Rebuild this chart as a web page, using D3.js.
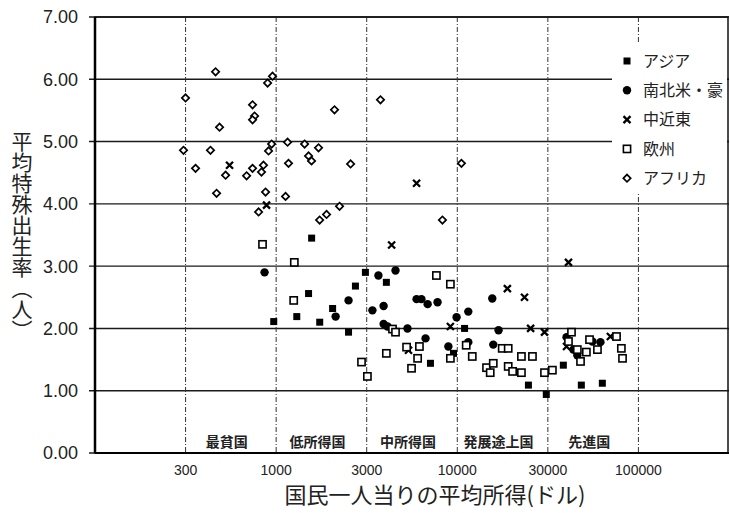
<!DOCTYPE html>
<html><head><meta charset="utf-8">
<script src="https://cdn.jsdelivr.net/npm/d3@7"></script>
<style>body{margin:0;background:#fff} svg{display:block}</style>
</head><body><svg id="c" width="730" height="513"></svg>
<script>
// ---- data ----
const xTickValues = [316.23, 1000, 3162.3, 10000, 31623, 100000];
const xTickLabels = ["300", "1000", "3000", "10000", "30000", "100000"];
const yTickValues = [0, 1, 2, 3, 4, 5, 6, 7];
const incomeGroups = ["最貧国", "低所得国", "中所得国", "発展途上国", "先進国"];
const seriesNames = ["アジア", "南北米・豪", "中近東", "欧州", "アフリカ"];

// [平均所得(ドル), 平均特殊出生率]
const asia = [
  [1570,3.45],[3110,2.90],[2740,2.68],[1510,2.56],[2050,2.32],[1300,2.19],[970,2.11],
  [1740,2.10],[2510,1.94],[4060,2.74],[10970,2.00],[9530,1.60],[7110,1.44],[24700,1.09],
  [31000,0.94],[38500,1.41],[48400,1.09],[63200,1.12]
];
const americas = [
  [863,2.90],[2510,2.45],[2130,2.19],[3670,2.85],[4560,2.93],[3400,2.29],[3920,2.36],
  [3920,2.07],[4120,2.03],[5310,2.00],[5960,2.47],[6340,2.47],[6860,2.39],[7780,2.42],
  [6680,1.84],[8930,1.71],[9910,2.18],[11500,2.27],[11500,1.78],[15600,2.48],[16900,1.97],
  [15800,1.74],[40100,1.86],[46000,1.57],[43700,1.66],[55700,1.79],[61700,1.78]
];
const middleEast = [
  [553,4.62],[885,3.98],[5960,4.33],[4340,3.34],[41100,3.06],[18900,2.64],[23500,2.50],
  [25400,2.00],[30300,1.94],[40100,1.71],[70000,1.87],[9160,2.03],[5380,1.65]
];
const europe = [
  [841,3.35],[1260,3.06],[1250,2.45],[2960,1.46],[3190,1.23],[7670,2.85],[9160,2.71],
  [4390,1.99],[4560,1.94],[4060,1.60],[5250,1.70],[6180,1.71],[6040,1.52],[5590,1.36],
  [9160,1.52],[11200,1.73],[12100,1.55],[14500,1.37],[15200,1.29],[15800,1.44],[17700,1.68],
  [19100,1.68],[19100,1.39],[20200,1.31],[22600,1.29],[22600,1.55],[26000,1.55],[30300,1.29],
  [33500,1.33],[42700,1.94],[41100,1.79],[46000,1.66],[51600,1.62],[47900,1.47],[53700,1.82],
  [59400,1.66],[75700,1.87],[80500,1.68],[81700,1.52]
];
const africa = [
  [316,5.70],[463,6.12],[487,5.23],[308,4.86],[359,4.57],[434,4.86],[526,4.46],[469,4.17],
  [687,4.45],[741,5.59],[760,5.41],[741,5.35],[741,4.57],[830,4.51],[851,4.62],[874,4.19],
  [800,3.87],[897,5.94],[955,6.05],[944,4.96],[908,4.85],[1156,4.99],[1170,4.65],[1127,4.12],
  [1436,4.96],[1510,4.77],[1568,4.69],[1714,4.90],[2100,5.51],[2576,4.64],[1738,3.74],
  [1898,3.83],[2239,3.96],[3767,5.67],[10540,4.65],[8280,3.74]
];
const seriesData = [asia, americas, middleEast, europe, africa];
const seriesShapes = ["squareFilled", "circleFilled", "times", "squareOpen", "diamondOpen"];

// ---- chart ----
const svg = d3.select("#c");
const W = 730, H = 513;
const plot = {left: 95, right: 729, top: 17, bottom: 453};
const x = d3.scaleLog().domain([100, 316228]).range([plot.left, plot.right]);
const y = d3.scaleLinear().domain([0, 7]).range([plot.bottom, plot.top]);
const jp = "'Noto Sans CJK JP', 'Noto Sans', sans-serif";
const num = "'Liberation Sans', Arial, sans-serif";

svg.append("rect").attr("width", W).attr("height", H).attr("fill", "#fff");

// horizontal grid (solid) with short outward ticks
svg.append("g").selectAll("line").data(yTickValues).join("line")
  .attr("x1", plot.left - 6).attr("x2", plot.right)
  .attr("y1", d => y(d)).attr("y2", d => y(d))
  .attr("stroke", "#1a1a1a").attr("stroke-width", 1.4);

// vertical grid (dashed)
svg.append("g").selectAll("line").data(xTickValues).join("line")
  .attr("x1", d => x(d)).attr("x2", d => x(d))
  .attr("y1", plot.top).attr("y2", plot.bottom)
  .attr("stroke", "#333").attr("stroke-width", 1).attr("stroke-dasharray", "5,2,1,2");

// frame
svg.append("rect").attr("x", plot.left).attr("y", plot.top)
  .attr("width", plot.right - plot.left - 1).attr("height", plot.bottom - plot.top)
  .attr("fill", "none").attr("stroke", "#111").attr("stroke-width", 1.5);
svg.append("line").attr("x1", plot.left).attr("x2", plot.left)
  .attr("y1", plot.top).attr("y2", plot.bottom).attr("stroke", "#000").attr("stroke-width", 2.5);
svg.append("line").attr("x1", plot.left).attr("x2", plot.right)
  .attr("y1", plot.bottom).attr("y2", plot.bottom).attr("stroke", "#000").attr("stroke-width", 2);

// y tick labels
svg.append("g").selectAll("text").data(yTickValues).join("text")
  .attr("x", 78).attr("y", d => y(d)).attr("dy", "0.36em")
  .attr("text-anchor", "end").attr("font-family", num).attr("font-size", 18)
  .attr("fill", "#222").text(d => d.toFixed(2));

// x tick labels
svg.append("g").selectAll("text").data(xTickValues).join("text")
  .attr("x", d => x(d)).attr("y", 475)
  .attr("text-anchor", "middle").attr("font-family", num).attr("font-size", 14)
  .attr("fill", "#222").text((d, i) => xTickLabels[i]);

// income group labels
svg.append("g").selectAll("text").data(incomeGroups).join("text")
  .attr("x", (d, i) => x(Math.sqrt(xTickValues[i] * xTickValues[i + 1])) - 4)
  .attr("y", 447).attr("text-anchor", "middle")
  .attr("font-family", jp).attr("font-size", 14).attr("font-weight", "bold")
  .attr("fill", "#222").text(d => d);

// axis titles
svg.append("text").attr("x", 435).attr("y", 503).attr("text-anchor", "middle")
  .attr("font-family", jp).attr("font-size", 22).attr("fill", "#222")
  .text("国民一人当りの平均所得(ドル)");
svg.append("text").attr("x", 22).attr("y", 131)
  .attr("font-family", jp).attr("font-size", 21).attr("fill", "#222")
  .style("writing-mode", "vertical-rl")
  .text("平均特殊出生率（人）");

// markers
function drawMarker(g, shape) {
  if (shape === "squareFilled") {
    g.append("rect").attr("x", -3.5).attr("y", -3.5).attr("width", 7).attr("height", 7).attr("fill", "#000");
  } else if (shape === "circleFilled") {
    g.append("circle").attr("r", 4.2).attr("fill", "#000");
  } else if (shape === "times") {
    g.append("path").attr("d", "M-3.5,-3.5L3.5,3.5M-3.5,3.5L3.5,-3.5")
      .attr("stroke", "#000").attr("stroke-width", 2.3).attr("fill", "none");
  } else if (shape === "squareOpen") {
    g.append("rect").attr("x", -3.6).attr("y", -3.6).attr("width", 7.2).attr("height", 7.2)
      .attr("fill", "#fff").attr("stroke", "#000").attr("stroke-width", 1.6);
  } else if (shape === "diamondOpen") {
    g.append("rect").attr("x", -2.6).attr("y", -2.6).attr("width", 5.2).attr("height", 5.2)
      .attr("transform", "rotate(45)")
      .attr("fill", "#fff").attr("stroke", "#000").attr("stroke-width", 1.7);
  }
}

// legend
const legend = svg.append("g");
legend.append("rect").attr("x", 612).attr("y", 42).attr("width", 115).attr("height", 152).attr("fill", "#fff");
seriesNames.forEach((name, i) => {
  const ly = 61 + i * 29.3;
  const g = legend.append("g").attr("transform", `translate(627,${ly})`);
  drawMarker(g, seriesShapes[i]);
  legend.append("text").attr("x", 643).attr("y", ly).attr("dy", "0.36em")
    .attr("font-family", jp).attr("font-size", 16).attr("fill", "#222").text(name);
});

// points
seriesData.forEach((data, si) => {
  svg.append("g").selectAll("g").data(data).join("g")
    .attr("transform", d => `translate(${x(d[0])},${y(d[1])})`)
    .each(function() { drawMarker(d3.select(this), seriesShapes[si]); });
});
</script></body></html>
